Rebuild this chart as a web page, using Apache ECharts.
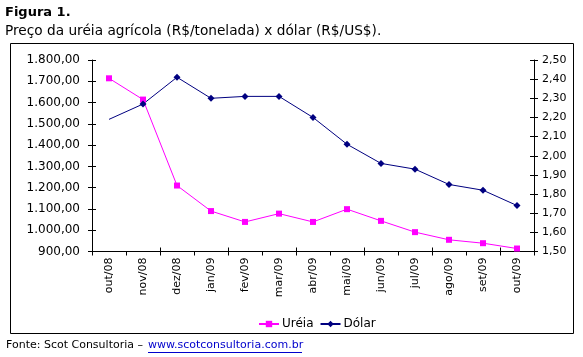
<!DOCTYPE html>
<html><head><meta charset="utf-8">
<script src="https://cdn.jsdelivr.net/npm/echarts@6/dist/echarts.min.js"></script>
<style>
html,body{margin:0;padding:0;background:#fff;}
#c{width:583px;height:357px;}
</style></head>
<body><div id="c"></div>
<script>
const categories = ['out/08','nov/08','dez/08','jan/09','fev/09','mar/09','abr/09','mai/09','jun/09','jul/09','ago/09','set/09','out/09'];
const ureia = [1714, 1614, 1210, 1090, 1039, 1078, 1039, 1099, 1044, 991, 955, 939, 914];
const dolar = [2.19, 2.27, 2.41, 2.30, 2.31, 2.31, 2.20, 2.06, 1.96, 1.93, 1.85, 1.82, 1.74];
const titleText = 'Figura 1.';
const subtitleText = 'Preço da uréia agrícola (R$/tonelada) x dólar (R$/US$).';
const fonte = 'Fonte: Scot Consultoria – ';
const fonteLink = 'www.scotconsultoria.com.br';

const F = '"DejaVu Sans", Verdana, sans-serif';
const chart = echarts.init(document.getElementById('c'), null, {renderer:'canvas'});
const fmtL = v => v.toLocaleString('pt-BR',{minimumFractionDigits:2,maximumFractionDigits:2});
const fmtR = v => v.toFixed(2).replace('.', ',');
const axLine = {show:true, lineStyle:{color:'#000', width:1}};
const dolarData = dolar.map((v,i)=> i===0 ? {value:v, symbol:'none'} : v);

chart.setOption({
  animation:false,
  backgroundColor:'#fff',
  graphic:[
    {type:'text', left:5, top:6, style:{text:titleText, font:'bold 13px '+F, fill:'#000'}},
    {type:'text', left:5, top:24, style:{text:subtitleText, font:'13.7px '+F, fill:'#000'}},
    {type:'rect', shape:{x:10.5, y:43.5, width:563, height:290}, style:{fill:null, stroke:'#000', lineWidth:1}},
    {type:'text', left:6, top:340, style:{text:fonte, font:'11px '+F, fill:'#000'}},
    {type:'text', left:148, top:340, style:{text:fonteLink, font:'11px '+F, fill:'#0000CC'}},
    {type:'line', shape:{x1:148, y1:352.5, x2:302, y2:352.5}, style:{stroke:'#0000CC', lineWidth:1}}
  ],
  grid:{left:92, right:49, top:60, bottom:105.5, containLabel:false},
  legend:{
    top:313, left:253, itemWidth:20, itemHeight:8, itemGap:6,
    textStyle:{fontFamily:F, fontSize:12, color:'#000', padding:[0,0,0,-2]},
    data:[{name:'Uréia'},{name:'Dólar'}]
  },
  xAxis:[
    {type:'category', data:categories, boundaryGap:true, axisLine:axLine,
     axisTick:{show:true, length:4, lineStyle:{color:'#000'}},
     axisLabel:{rotate:90, interval:0, margin:6, fontFamily:F, fontSize:11, color:'#000'},
     splitLine:{show:false}},
    {type:'category', data:categories, position:'bottom', boundaryGap:true, axisLine:{show:false},
     axisTick:{show:true, inside:true, length:4, lineStyle:{color:'#000'}},
     axisLabel:{show:false}, splitLine:{show:false}}
  ],
  yAxis:[
    {type:'value', min:900, max:1800, interval:100, position:'left', axisLine:axLine,
     axisTick:{show:true, length:4, lineStyle:{color:'#000'}},
     axisLabel:{formatter:fmtL, margin:12, fontFamily:F, fontSize:12, color:'#000'},
     splitLine:{show:false}},
    {type:'value', min:1.5, max:2.5, interval:0.1, position:'right', axisLine:axLine,
     axisTick:{show:true, length:4, lineStyle:{color:'#000'}},
     axisLabel:{formatter:fmtR, margin:8, fontFamily:F, fontSize:11, color:'#000'},
     splitLine:{show:false}},
    {type:'value', min:900, max:1800, interval:100, position:'left', axisLine:{show:false},
     axisTick:{show:true, inside:true, length:4, lineStyle:{color:'#000'}},
     axisLabel:{show:false}, splitLine:{show:false}},
    {type:'value', min:1.5, max:2.5, interval:0.1, position:'right', axisLine:{show:false},
     axisTick:{show:true, inside:true, length:4, lineStyle:{color:'#000'}},
     axisLabel:{show:false}, splitLine:{show:false}}
  ],
  series:[
    {name:'Uréia', type:'line', xAxisIndex:0, yAxisIndex:0, data:ureia,
     symbol:'rect', symbolSize:6, color:'#FF00FF',
     lineStyle:{color:'#FF00FF', width:1}, itemStyle:{color:'#FF00FF'}},
    {name:'Dólar', type:'line', xAxisIndex:0, yAxisIndex:1, data:dolarData,
     symbol:'diamond', symbolSize:7, color:'#000080',
     lineStyle:{color:'#000080', width:1}, itemStyle:{color:'#000080'}}
  ]
});
</script></body></html>
